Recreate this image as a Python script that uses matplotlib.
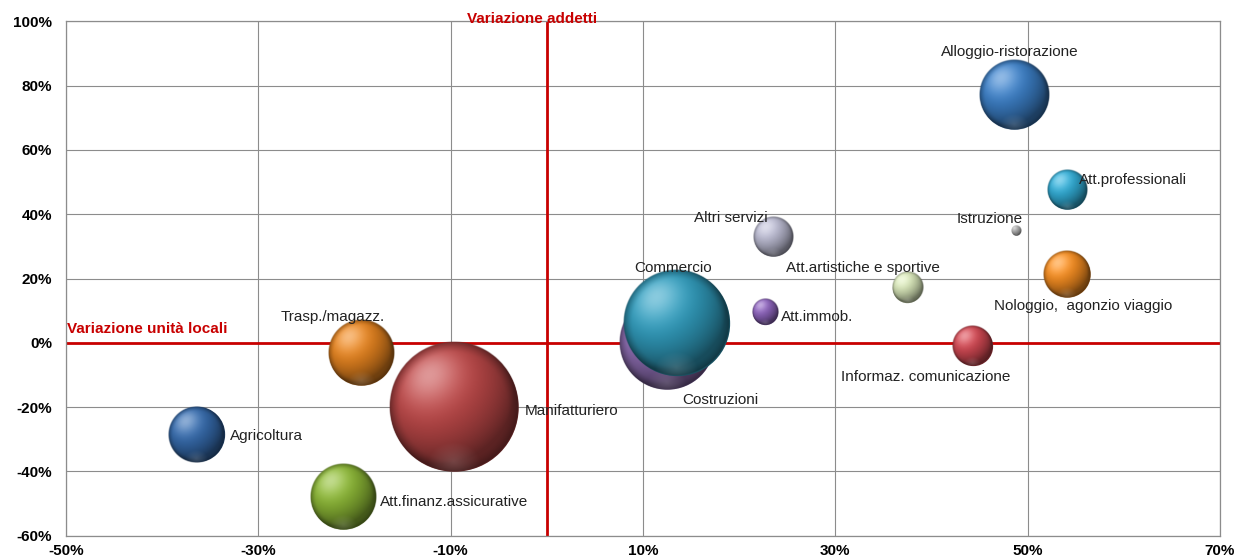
import numpy as np
import matplotlib
matplotlib.use("Agg")
import matplotlib.pyplot as plt
from matplotlib.colors import to_rgb

plt.rcParams["font.family"] = ["Liberation Sans", "DejaVu Sans"]

# Sector data: change in local units (x, %), change in employees (y, %), bubble size
sectors = [
    "Costruzioni", "Commercio", "Manifatturiero", "Trasp./magazz.", "Agricoltura",
    "Att.finanz.assicurative", "Alloggio-ristorazione", "Att.professionali",
    "Istruzione", "Nologgio,  agonzio viaggio", "Att.artistiche e sportive",
    "Informaz. comunicazione", "Att.immob.", "Altri servizi",
]
var_unita = [12.5, 13.5, -9.7, -19.3, -36.4, -21.2, 48.6, 54.1, 48.8, 54.1, 37.5, 44.3, 22.7, 23.5]
var_addetti = [0.2, 6.2, -20.0, -3.3, -28.4, -48.1, 77.1, 47.5, 34.9, 21.4, 17.1, -1.0, 9.7, 32.8]
dimensione = [54.5, 67.7, 100.0, 25.8, 19.2, 25.8, 29.0, 9.5, 0.6, 13.6, 5.7, 9.9, 4.3, 9.5]

colors = ["#8c6cb0", "#2f98b8", "#b84646", "#e0801e", "#3468a8", "#88b234",
          "#3a7cc2", "#30a8d0", "#a8a8a8", "#f08a20", "#d2e0b4", "#cc4650",
          "#8a62b8", "#b6b6cc"]

# label placement: offset in pixels from bubble centre, horizontal alignment
label_pos = [(53, -58, "center"), (-4, 55, "center"), (71, -4, "left"),
             (-29, 36, "center"), (33, -2, "left"), (37, -5, "left"),
             (-4, 43, "center"), (12, 10, "left"), (-26, 12, "center"),
             (16, -32, "center"), (-45, 20, "center"), (-47, -31, "center"),
             (16, -5, "left"), (-42, 19, "center")]

x_ticks = [-50, -30, -10, 10, 30, 50, 70]
y_ticks = [-60, -40, -20, 0, 20, 40, 60, 80, 100]

W, H, DPI = 1237, 560, 100
fig = plt.figure(figsize=(W / DPI, H / DPI), dpi=DPI)
fig.patch.set_facecolor("white")
ax = fig.add_axes([66 / W, 1 - 535.7 / H, (1220 - 66) / W, (535.7 - 21.3) / H])
ax.set_xlim(-50, 70)
ax.set_ylim(-60, 100)
ax.set_xticks(x_ticks)
ax.set_yticks(y_ticks)
ax.set_xticklabels([f"{t}%" for t in x_ticks], fontsize=11, fontweight="bold")
ax.set_yticklabels([f"{t}%" for t in y_ticks], fontsize=11, fontweight="bold")
ax.tick_params(length=0)
ax.tick_params(axis="x", pad=6)
ax.tick_params(axis="y", pad=10)
ax.grid(True, color="#8c8c8c", lw=0.8, zorder=0)
ax.set_axisbelow(True)
for s in ax.spines.values():
    s.set_color("#8c8c8c")
    s.set_linewidth(0.9)

red = "#c80000"
ax.axhline(0, color=red, lw=2.0, zorder=1)
ax.axvline(0, color=red, lw=2.0, zorder=1)
ax.annotate("Variazione unità locali", (-50, 0), xytext=(1, 14), textcoords="offset pixels",
            ha="left", va="center", color=red, fontsize=11, fontweight="bold", zorder=6)
ax.annotate("Variazione addetti", (-1.5, 100), xytext=(0, 2), textcoords="offset pixels",
            ha="center", va="center", color=red, fontsize=11, fontweight="bold", zorder=6,
            annotation_clip=False)

# pixel scale of the data axes
sx = ax.bbox.width / 120.0
sy = ax.bbox.height / 160.0
r_max = 65.0  # pixel radius of the largest bubble

light_dir = np.array([-0.38, 0.48, 0.79])
light_dir /= np.linalg.norm(light_dir)


def sphere(base, rpx, n=240):
    v, u = np.mgrid[1:-1:n * 1j, -1:1:n * 1j]
    r = np.hypot(u, v)
    nz = np.sqrt(np.clip(1 - r ** 2, 0, 1))
    d = np.clip(u * light_dir[0] + v * light_dir[1] + nz * light_dir[2], 0, 1)
    shade = 0.5 + 0.58 * d
    b = np.array(to_rgb(base))
    rgb = np.clip(b[None, None, :] * shade[..., None], 0, 1)
    spec = d ** 10 * 0.42
    rgb = rgb + (1 - rgb) * spec[..., None]
    # darker outline towards the edge
    edge = np.clip((r - 0.82) / 0.18, 0, 1) ** 1.5 * 0.3
    rgb = rgb * (1 - edge[..., None])
    # faint reflected light along the lower rim
    rim = np.clip(1 - np.hypot(u * 0.75, v + 0.85) / 0.3, 0, 1) * 0.15
    rgb = rgb + (1 - rgb) * rim[..., None]
    alpha = np.clip((1 - r) * rpx, 0, 1)
    return np.dstack([np.clip(rgb, 0, 1), alpha])


for i, (name, x, y, size, c) in enumerate(zip(sectors, var_unita, var_addetti, dimensione, colors)):
    rpx = r_max * np.sqrt(size / 100.0)
    dpt = 2 * rpx * 72 / DPI
    base = np.array(to_rgb(c)) * 0.55
    ax.scatter([x], [y], s=[(dpt - 1.2) ** 2], color=[base], lw=0, zorder=3 + i * 0.01)
    rx, ry = rpx / sx, rpx / sy
    ax.imshow(sphere(c, rpx), extent=(x - rx, x + rx, y - ry, y + ry), aspect="auto",
              interpolation="bilinear", zorder=3 + i * 0.01 + 0.005)
    dx, dy, ha = label_pos[i]
    ax.annotate(name, (x, y), xytext=(dx, dy), textcoords="offset pixels",
                ha=ha, va="center", fontsize=11, color="#222222", zorder=5)

ax.set_xlim(-50, 70)
ax.set_ylim(-60, 100)

fig.savefig("out.png", dpi=DPI, facecolor="white")
